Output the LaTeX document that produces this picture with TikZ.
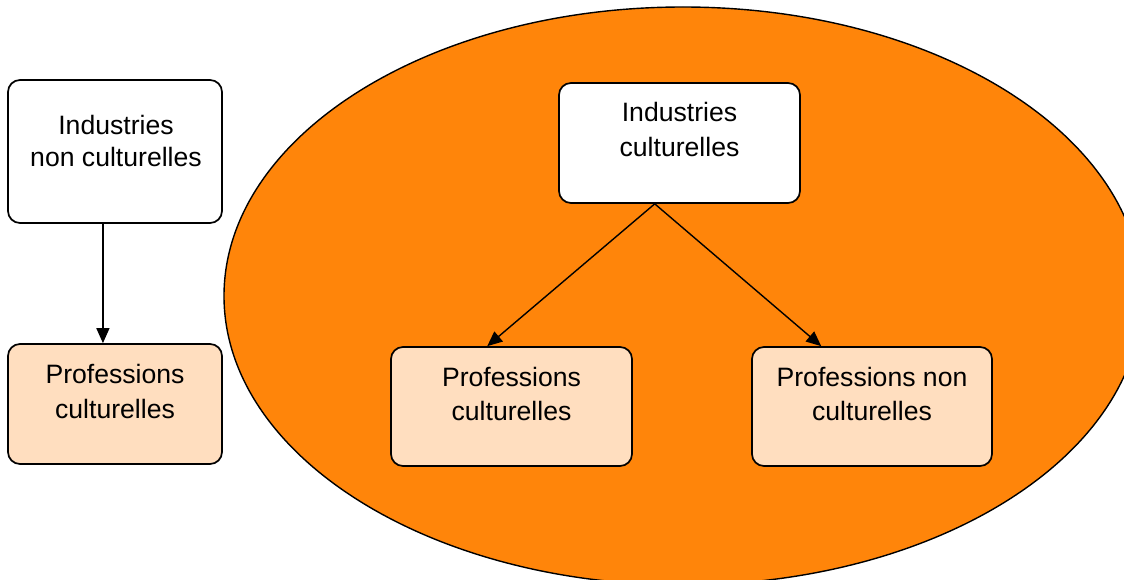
\documentclass[tikz,border=0pt]{standalone}
\usepackage{fontspec}
\setmainfont{Liberation Sans}
\usetikzlibrary{arrows.meta,calc}
\definecolor{orng}{RGB}{255,133,10}
\definecolor{peach}{RGB}{255,222,191}
\tikzset{
  box/.style={draw=black, line width=1.7pt, rounded corners=12pt, inner sep=0pt},
  wbox/.style={box, fill=white},
  pbox/.style={box, fill=peach},
  txt/.style={anchor=base, inner sep=0pt, font=\fontsize{26.6}{31}\selectfont},
  arr/.style={draw=black, line width=1.4pt, -{Triangle[length=15pt,width=13pt]}}
}
\begin{document}
\begin{tikzpicture}[x=1pt,y=-1pt]
\useasboundingbox (0,0) rectangle (1124,580);
\clip (0,0) rectangle (1124,580);
\draw[line width=1.4pt, fill=orng] (683,296) ellipse [x radius=459pt, y radius=289pt];
% left
\node[wbox, minimum width=214pt, minimum height=143pt] (lt) at (115,151.5) {};
\node[pbox, minimum width=214pt, minimum height=120pt] (lb) at (115,404) {};
\node[txt] (lt1) at (116,135) {Industries};
\node[txt] (lt2) at (116,167) {non culturelles};
\node[txt] (lb1) at (115,383) {Professions};
\node[txt] (lb2) at (115,418) {culturelles};
% right
\node[wbox, minimum width=241pt, minimum height=120pt] (ct) at (679.5,143) {};
\node[pbox, minimum width=241pt, minimum height=119pt] (bm) at (511.5,406.5) {};
\node[pbox, minimum width=240pt, minimum height=119pt] (br) at (872,406.5) {};
\node[txt] (ct1) at (679.5,122) {Industries};
\node[txt] (ct2) at (679.5,157) {culturelles};
\node[txt] (bm1) at (511.5,386) {Professions};
\node[txt] (bm2) at (511.5,420) {culturelles};
\node[txt] (br1) at (872,386) {Professions non};
\node[txt] (br2) at (872,420) {culturelles};
% connectors
\coordinate (lts) at ($(lt.south west)!0.444!(lt.south east)$);
\coordinate (lbn) at ($(lb.north west)!0.444!(lb.north east)$);
\coordinate (cts) at ($(ct.south west)!0.398!(ct.south east)$);
\coordinate (bmn) at ($(bm.north west)!0.40!(bm.north east)$);
\coordinate (brn) at ($(br.north west)!0.29!(br.north east)$);
\draw[arr] (lts) -- (lbn);
\draw[arr] (cts) -- (bmn);
\draw[arr] (cts) -- (brn);
\end{tikzpicture}
\end{document}
